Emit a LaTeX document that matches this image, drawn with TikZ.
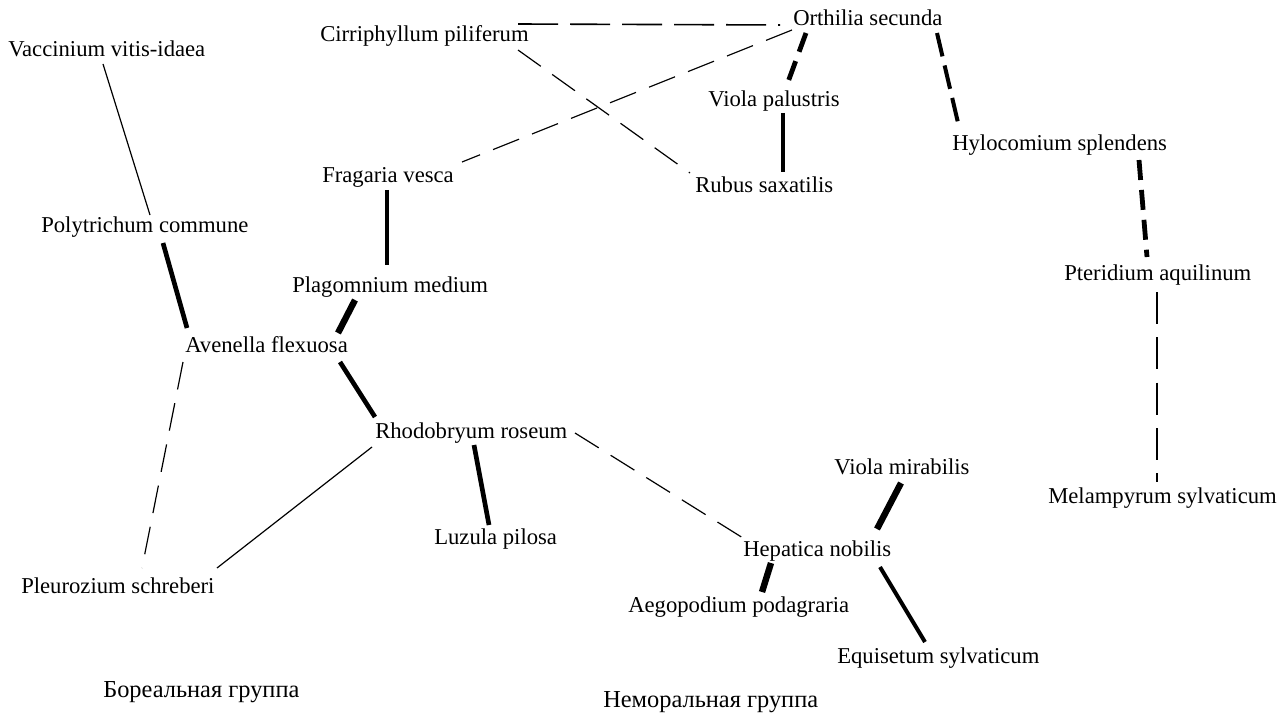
\documentclass[tikz,border=0pt]{standalone}
\usepackage{fontspec}
\setmainfont{Liberation Serif}
\usetikzlibrary{calc}
\tikzset{
  lbl/.style={anchor=base west, inner sep=0pt, font=\fontsize{17}{20}\selectfont},
  grp/.style={lbl, font=\fontsize{18.3}{21}\selectfont},
  thinsolid/.style={line width=0.9pt},
  thindash/.style={line width=0.9pt, dash pattern=on 21pt off 10.5pt},
  longdash/.style={line width=1.2pt, dash pattern=on 30pt off 9pt},
  vdash/.style={line width=1.1pt, dash pattern=on 24pt off 10pt},
  heavydash/.style={line width=3.6pt, dash pattern=on 15pt off 7.5pt},
  meddash/.style={line width=3pt, dash pattern=on 18pt off 7pt},
  solidA/.style={line width=3pt},
  solidB/.style={line width=3.5pt},
  solidC/.style={line width=4.8pt},
}
\begin{document}
\begin{tikzpicture}[x=0.75pt,y=-0.75pt]
\useasboundingbox[fill=white] (0,0) rectangle (1288,713);
% labels
\node[lbl] (vac)    at (8,57)    {Vaccinium vitis-idaea};
\node[lbl] (cir)    at (320,42)  {Cirriphyllum piliferum};
\node[lbl] (orth)   at (793,26)  {Orthilia secunda};
\node[lbl] (violap) at (708,107) {Viola palustris};
\node[lbl] (hylo)   at (952,151) {Hylocomium splendens};
\node[lbl] (frag)   at (322,183) {Fragaria vesca};
\node[lbl] (rubus)  at (695,192) {Rubus saxatilis};
\node[lbl] (poly)   at (41,232)  {Polytrichum commune};
\node[lbl] (plag)   at (292,292) {Plagomnium medium};
\node[lbl] (pter)   at (1064,280){Pteridium aquilinum};
\node[lbl] (aven)   at (185,352) {Avenella flexuosa};
\node[lbl] (rhodo)  at (375,438) {Rhodobryum roseum};
\node[lbl] (violam) at (834,474) {Viola mirabilis};
\node[lbl] (melam)  at (1048,503){Melampyrum sylvaticum};
\node[lbl] (luzula) at (434,544) {Luzula pilosa};
\node[lbl] (hepat)  at (743,556) {Hepatica nobilis};
\node[lbl] (pleur)  at (21,593)  {Pleurozium schreberi};
\node[lbl] (aego)   at (628,612) {Aegopodium podagraria};
\node[lbl] (equis)  at (837,663) {Equisetum sylvaticum};
\node[grp] (bor)    at (103,697) {Бореальная группа};
\node[grp] (nemor)  at (603,707) {Неморальная группа};
% connectors
\draw[longdash]  ($(cir.base west)+(198,-18)$) -- ($(orth.base west)+(-13,-1)$);
\draw[thindash]  ($(cir.base west)+(198,8)$)   -- ($(rubus.base west)+(-5,-19)$);
\draw[thindash]  ($(orth.base west)+(-1,4)$)   -- ($(frag.base west)+(140,-21)$);
\draw[heavydash] ($(orth.base west)+(13,7)$)   -- ($(violap.base west)+(80,-25)$);
\draw[meddash]   ($(orth.base west)+(144,7)$)  -- ($(hylo.base west)+(7,-24)$);
\draw[solidA]    ($(violap.base west)+(75,6)$) -- ($(rubus.base west)+(88,-20)$);
\draw[heavydash] ($(hylo.base west)+(187,9)$)  -- ($(pter.base west)+(83,-23)$);
\draw[vdash]     ($(pter.base west)+(93,12)$)  -- ($(melam.base west)+(109,-21)$);
\draw[thinsolid] ($(vac.base west)+(95,7)$)    -- ($(poly.base west)+(109,-17)$);
\draw[solidB]    ($(poly.base west)+(122,11)$) -- ($(aven.base west)+(2,-24)$);
\draw[solidA]    ($(frag.base west)+(65,7)$)   -- ($(plag.base west)+(95,-27)$);
\draw[solidC]    ($(plag.base west)+(63,8)$)   -- ($(aven.base west)+(153,-19)$);
\draw[thindash]  ($(aven.base west)+(-2,10)$)  -- ($(pleur.base west)+(121,-25)$);
\draw[solidB]    ($(aven.base west)+(155,10)$) -- ($(rhodo.base west)+(0,-21)$);
\draw[thinsolid] ($(rhodo.base west)+(-3,9)$)  -- ($(pleur.base west)+(196,-25)$);
\draw[solidB]    ($(rhodo.base west)+(99,7)$)  -- ($(luzula.base west)+(55,-19)$);
\draw[thindash]  ($(rhodo.base west)+(200,-5)$) -- ($(hepat.base west)+(0,-18)$);
\draw[solidC]    ($(violam.base west)+(67,9)$) -- ($(hepat.base west)+(134,-27)$);
\draw[solidC]    ($(hepat.base west)+(28,7)$)  -- ($(aego.base west)+(134,-20)$);
\draw[solidA]    ($(hepat.base west)+(137,11)$) -- ($(equis.base west)+(88,-21)$);
\end{tikzpicture}
\end{document}
